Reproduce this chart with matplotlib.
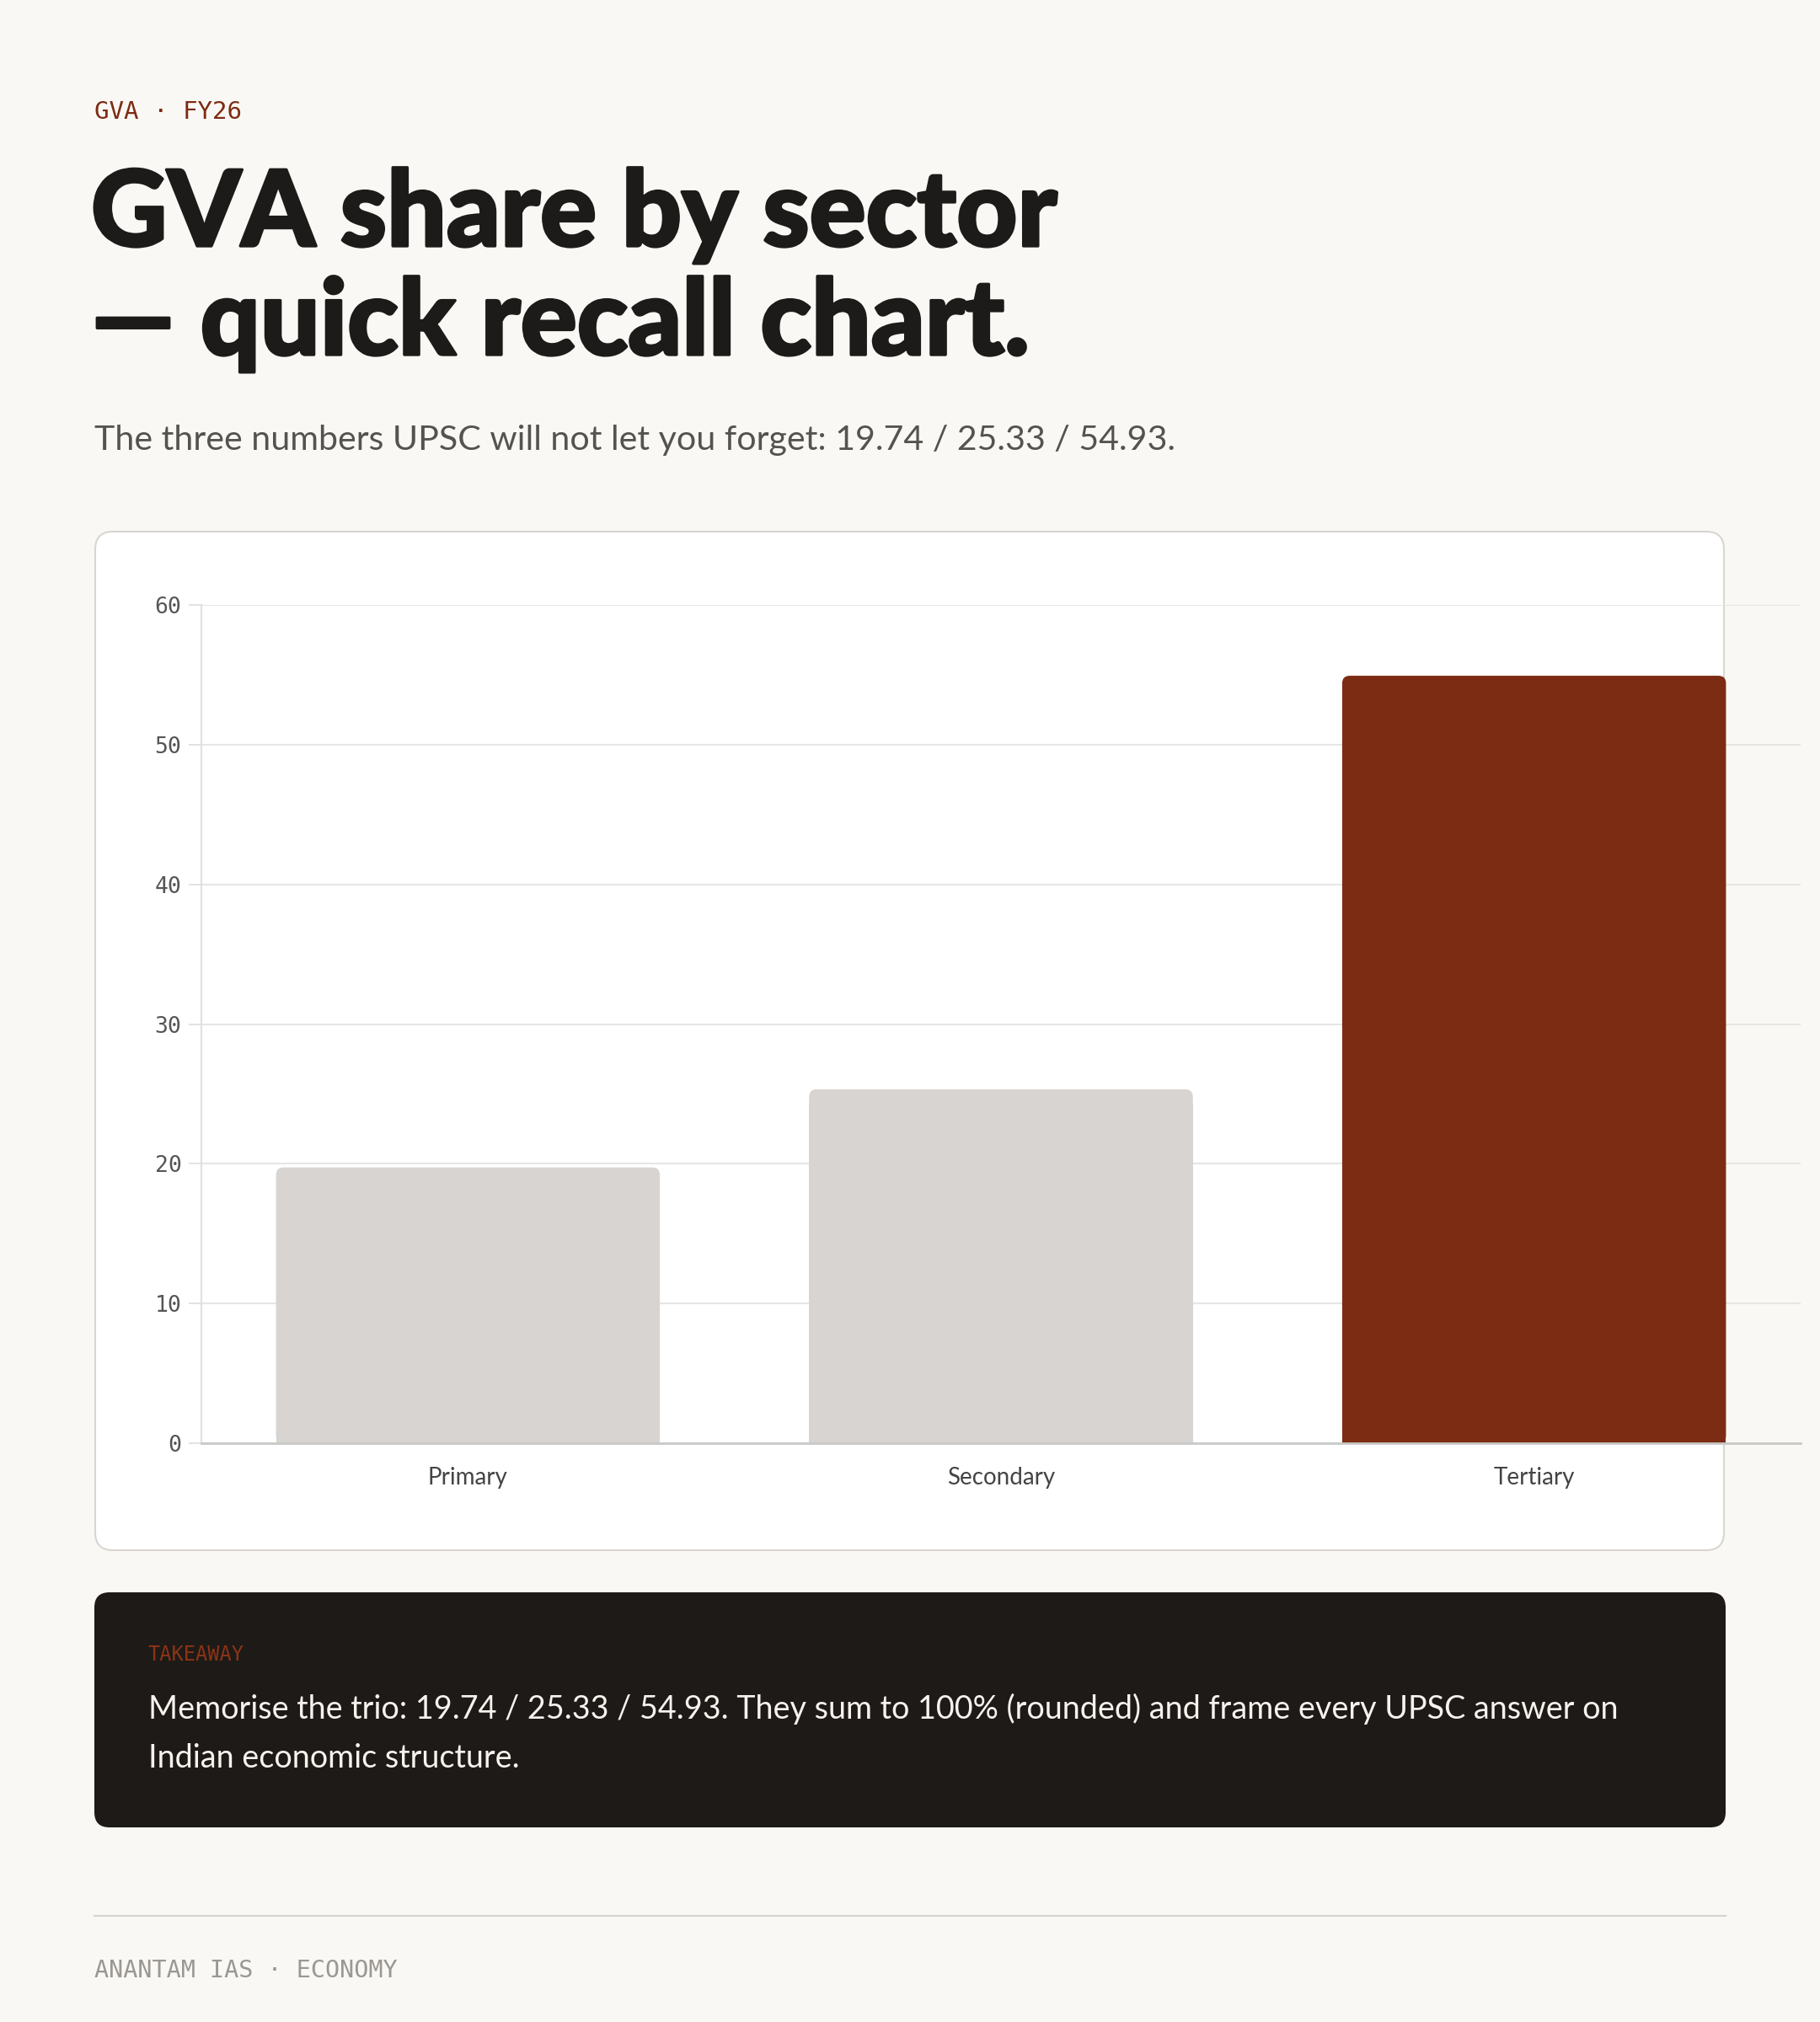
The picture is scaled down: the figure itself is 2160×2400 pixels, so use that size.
import matplotlib
matplotlib.use("Agg")
import matplotlib.pyplot as plt
from matplotlib.patches import FancyBboxPatch
from matplotlib.lines import Line2D
import matplotlib.patheffects as pe
import numpy as np

# ---------------- data ----------------
categories = ["Primary", "Secondary", "Tertiary"]
shares = [19.74, 25.33, 54.93]
bar_colors = ["#d8d4d1", "#d8d4d1", "#7c2c13"]
yticks = [0, 10, 20, 30, 40, 50, 60]

eyebrow = "GVA · FY26"
title_lines = ["GVA share by sector", "— quick recall chart."]
subtitle = "The three numbers UPSC will not let you forget: 19.74 / 25.33 / 54.93."
takeaway_label = "TAKEAWAY"
takeaway_lines = ["Memorise the trio: 19.74 / 25.33 / 54.93. They sum to 100% (rounded) and frame every UPSC answer on",
                  "Indian economic structure."]
footer = "ANANTAM IAS · ECONOMY"

# ---------------- style ----------------
BG = "#faf8f4"
INK = "#1c1b1a"
RUST = "#7c2c13"
SANS = ["Lato", "Open Sans", "DejaVu Sans"]
HEAVY = ["Lato Black", "Lato Heavy", "Lato", "DejaVu Sans"]
MONO = ["DejaVu Sans Mono", "Liberation Mono"]

W, H = 2160, 2400
fig = plt.figure(figsize=(W / 100, H / 100), dpi=100)
fig.patch.set_facecolor(BG)
T = fig.dpi_scale_trans


def ix(x):
    return x / 100.0


def iy(y):
    return (H - y) / 100.0


def ftext(x, y, s, **kw):
    return fig.text(ix(x), iy(y), s, transform=T, **kw)


# eyebrow
ftext(112, 133, eyebrow, family=MONO, fontsize=21, color=RUST, va="center", ha="left")

# title (slightly thickened to mimic a black weight)
heavy_fx = [pe.withStroke(linewidth=2.4, foreground=INK)]
ftext(108, 292, title_lines[0], family=HEAVY, fontweight="black", fontsize=90, color=INK,
      va="baseline", path_effects=heavy_fx)
ftext(108, 421, title_lines[1], family=HEAVY, fontweight="black", fontsize=90, color=INK,
      va="baseline", path_effects=heavy_fx)

# subtitle
ftext(112, 534, subtitle, family=SANS, fontsize=29.6, color="#555350", va="baseline")

# chart card
card = FancyBboxPatch((ix(113), iy(1840)), ix(2046 - 113), (1840 - 631) / 100.0,
                      boxstyle="round,pad=0,rounding_size=0.21", transform=T,
                      facecolor="white", edgecolor="#d9d6d1", linewidth=1.5, zorder=0)
fig.patches.append(card)

# axes
ax_l, ax_r, ax_t, ax_b = 239, 2137, 718, 1713
ax = fig.add_axes([ax_l / W, 1 - ax_b / H, (ax_r - ax_l) / W, (ax_b - ax_t) / H])
ax.set_facecolor("none")
ax.set_zorder(2)

x = np.arange(len(categories))
bars = ax.bar(x, shares, width=0.72, color=bar_colors, zorder=3, linewidth=0)
ax.set_xlim(-0.5, len(categories) - 0.5)
ax.set_ylim(yticks[0], yticks[-1])

# rounded tops
r_px = 9
rx = r_px * (ax.get_xlim()[1] - ax.get_xlim()[0]) / (ax_r - ax_l)
ry = r_px * (ax.get_ylim()[1] - ax.get_ylim()[0]) / (ax_b - ax_t)
for b, c in zip(bars, bar_colors):
    x0, w, h = b.get_x(), b.get_width(), b.get_height()
    b.set_height(h - 2 * ry)
    p = FancyBboxPatch((x0, 0), w, h, boxstyle=f"round,pad=0,rounding_size={rx}",
                       mutation_aspect=ry / rx, facecolor=c, edgecolor="none", zorder=3)
    ax.add_patch(p)

ax.set_yticks(yticks)
ax.set_xticks(x)
ax.set_xticklabels(categories, family=SANS, fontsize=20, color="#444444")
for lab in ax.get_yticklabels():
    lab.set_family(MONO)
ax.tick_params(axis="y", length=11, width=1.2, color="#dddddd", labelsize=19,
               labelcolor="#555555", pad=6)
ax.tick_params(axis="x", length=0, pad=20)
ax.grid(axis="y", color="#e6e6e6", linewidth=1.5, zorder=0)
ax.set_axisbelow(True)
for s in ["top", "right"]:
    ax.spines[s].set_visible(False)
ax.spines["left"].set_color("#e0e0e0")
ax.spines["left"].set_linewidth(1.5)
ax.spines["bottom"].set_color("#c9c9c9")
ax.spines["bottom"].set_linewidth(2)
ax.spines["bottom"].set_zorder(4)

# takeaway box
box = FancyBboxPatch((ix(112), iy(2169)), ix(2048 - 112), (2169 - 1890) / 100.0,
                     boxstyle="round,pad=0,rounding_size=0.18", transform=T,
                     facecolor="#1e1a17", edgecolor="none", zorder=0)
fig.patches.append(box)
ftext(176, 1964, takeaway_label, family=MONO, fontsize=17, color="#8a3416", va="center")
ftext(176, 2040, takeaway_lines[0], family=SANS, fontsize=27.2, color="#f6f3ee", va="baseline")
ftext(176, 2098, takeaway_lines[1], family=SANS, fontsize=27.2, color="#f6f3ee", va="baseline")

# footer
fig.add_artist(Line2D([ix(112), ix(2048)], [iy(2274), iy(2274)], transform=T,
                      color="#d6d3ce", linewidth=1.5))
ftext(112, 2339, footer, family=MONO, fontsize=20.5, color="#9b9894", va="center")

fig.savefig("out.png", dpi=100, facecolor=BG)
